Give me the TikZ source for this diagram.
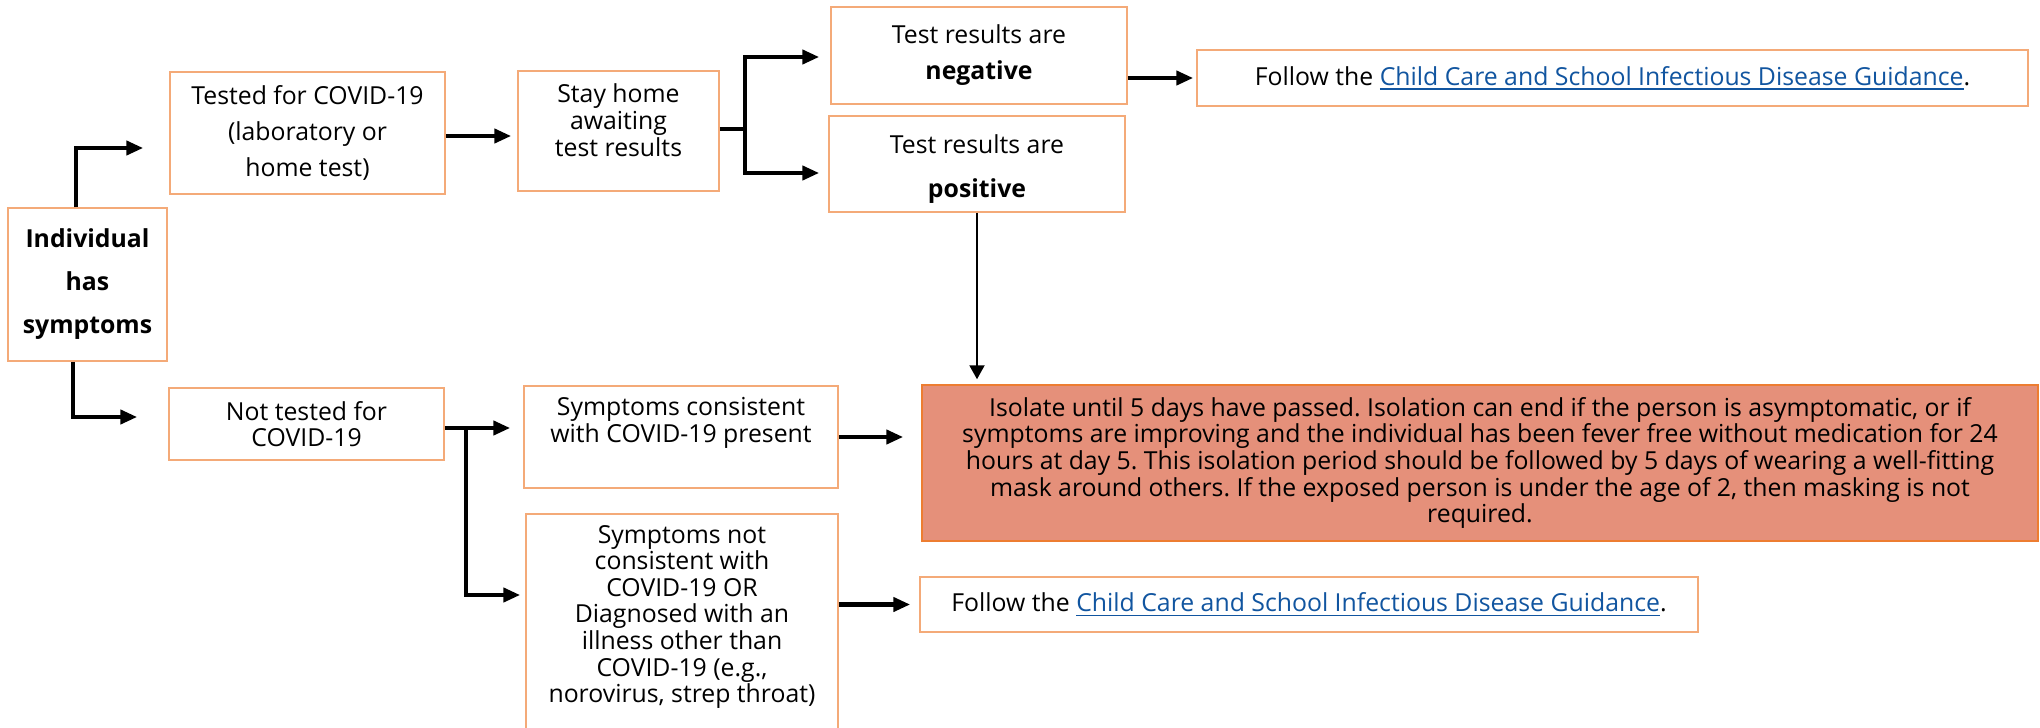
\documentclass[tikz,border=0pt]{standalone}
\usepackage{fontspec}
\setmainfont{Open Sans}
\usetikzlibrary{arrows.meta}
\usetikzlibrary{calc}

\definecolor{boxline}{RGB}{244,170,120}
\definecolor{isoline}{RGB}{237,125,49}
\definecolor{isofill}{RGB}{229,144,122}
\definecolor{linkblue}{RGB}{17,85,160}

\frenchspacing
\newcommand{\linkline}[1]{\leavevmode\setbox0\hbox{#1}\rlap{\rule[-2.2pt]{\wd0}{0.8pt}}\box0}
\newcommand{\guidelink}{\textcolor{linkblue}{\linkline{Child Care and School Infectious Disease Guidance}}}
\newcommand{\lowpad}[1]{\rule[-#1]{0pt}{#1}}

\tikzset{
	box/.style={rectangle, draw=boxline, line width=0.75pt, fill=white,
	            inner sep=0pt, align=center, font=\fontsize{12.4}{13.3}\selectfont},
}

\begin{document}
\begin{tikzpicture}[x=0.5pt, y=-0.5pt]
	\useasboundingbox (0,0) rectangle (2040,728);

	\begin{scope}[every node/.style={box}]
		\node (ind) at (87.5,284.5) [minimum width=79.5pt, minimum height=76.5pt,
		      font=\fontsize{12.4}{21.5}\selectfont\bfseries] {Individual\\has\\symptoms};
		\node (tested) at (307.5,133) [minimum width=137.5pt, minimum height=61pt,
		      font=\fontsize{12.4}{18}\selectfont] {Tested for COVID-19\\(laboratory or\\home test)};
		\node (stay) at (618.5,131) [minimum width=100.5pt, minimum height=60pt]
		      {Stay home\\awaiting\\test results\lowpad{11pt}};
		\node (neg) at (979,55.5) [minimum width=148pt, minimum height=48.5pt,
		      font=\fontsize{12.4}{18}\selectfont] {Test results are\\\textbf{negative}};
		\node (pos) at (977,164) [minimum width=148pt, minimum height=48pt,
		      font=\fontsize{12.4}{22}\selectfont] {\rule{0pt}{14pt}Test results are\\\textbf{positive}};
		\node (follow1) at (1612.5,78) [minimum width=415.5pt, minimum height=28pt]
		      {Follow the \guidelink.};
		\node (nottested) at (306.5,424) [minimum width=137.5pt, minimum height=36pt]
		      {Not tested for\\COVID-19};
		\node (cons) at (681,437) [minimum width=157pt, minimum height=51pt]
		      {Symptoms consistent\\with COVID-19 present\lowpad{17pt}};
		\node (notcons) at (682,627) [minimum width=156pt, minimum height=113pt]
		      {Symptoms not\\consistent with\\COVID-19 OR\\Diagnosed with an\\illness other than\\COVID-19 (e.g.,\\norovirus, strep throat)\lowpad{13pt}};
		\node (iso) at (1480,463) [minimum width=558pt, minimum height=78pt,
		      draw=isoline, fill=isofill]
		      {Isolate until 5 days have passed. Isolation can end if the person is asymptomatic, or if\\
		       symptoms are improving and the individual has been fever free without medication for 24\\
		       hours at day 5. This isolation period should be followed by 5 days of wearing a well-fitting\\
		       mask around others. If the exposed person is under the age of 2, then masking is not\\
		       required.};
		\node (follow2) at (1309,604.5) [minimum width=389pt, minimum height=27.5pt]
		      {Follow the \guidelink.};
	\end{scope}

	\begin{scope}[>={Triangle[length=8.5pt,width=7pt]}, line width=2.15pt]
		% tested branch
		\draw[->] ($(ind.north)+(-11.5,0)$) |- ($(tested.west)+(-26,15)$);
		\draw[->] ($(tested.east)+(0,3)$) -- ($(stay.west)+(-6,5)$);
		\coordinate (testfork) at ($(stay.east)+(25,-2)$);
		\draw (stay.east |- testfork) -- (testfork);
		\draw[->] (testfork) |- ($(neg.west)+(-11,1.5)$);
		\draw[->] (testfork) |- ($(pos.west)+(-9,9)$);
		\draw[->, shorten >=1.5pt] (neg.east |- follow1.west) -- (follow1.west);
		\draw[->, line width=1pt, >={Triangle[length=7pt,width=7.5pt]}, shorten >=2.5pt]
		      (pos.south) -- (pos.south |- iso.north);

		% not tested branch
		\draw[->] ($(ind.south)+(-14.5,0)$) |- ($(nottested.west)+(-31,-7)$);
		\coordinate (nofork) at ($(nottested.east)+(21,4)$);
		\draw (nottested.east |- nofork) -- (nofork);
		\draw[->] (nofork) -- ($(cons.west)+(-13,-9)$);
		\draw[->] (nofork) |- ($(notcons.west)+(-5,-32)$);
		\draw[->, shorten >=9pt] (cons.east) -- (cons.east -| iso.west);
		\draw[->, shorten >=4.5pt] (notcons.east |- follow2.west) -- (follow2.west);
	\end{scope}
\end{tikzpicture}
\end{document}
